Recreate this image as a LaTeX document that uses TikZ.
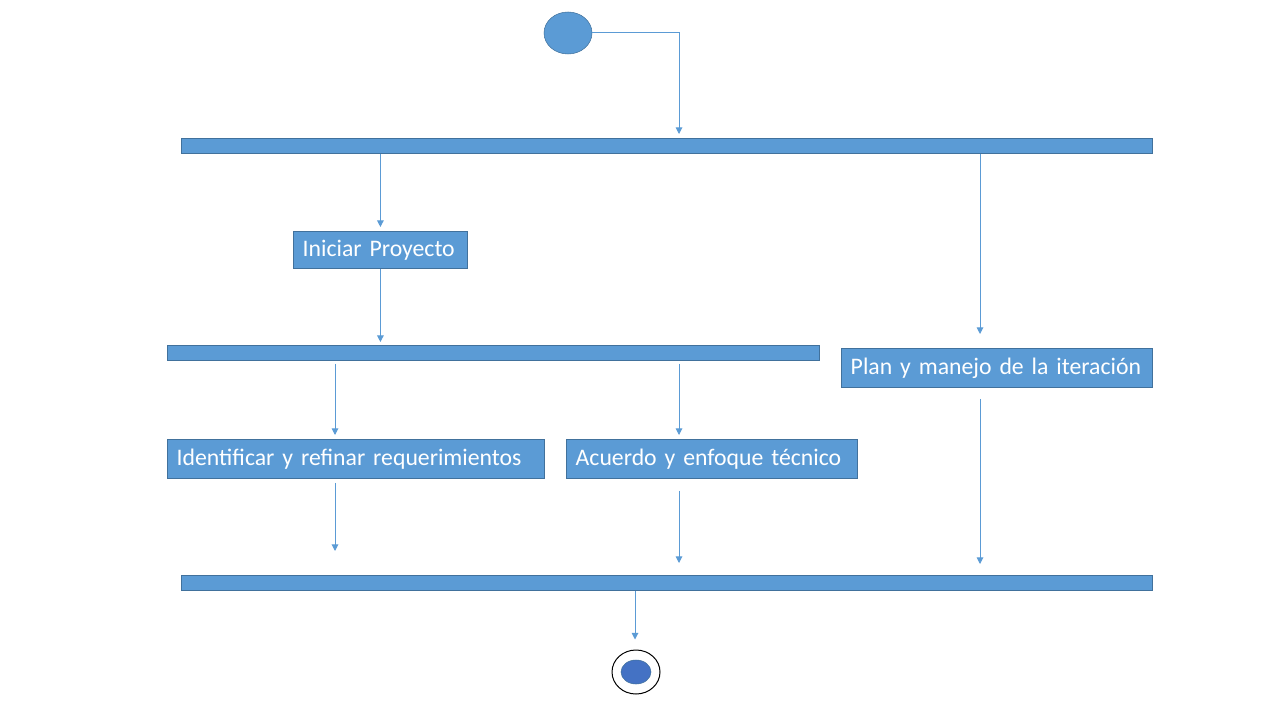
\documentclass[tikz,border=0pt]{standalone}
\usepackage{fontspec}
\setmainfont{Carlito}[WordSpace=0.8]
\usetikzlibrary{shapes.geometric, arrows.meta, positioning}
\definecolor{fillblue}{HTML}{5B9BD5}
\definecolor{edgeblue}{HTML}{41719C}
\definecolor{endblue}{HTML}{4472C4}

\begin{document}
\begin{tikzpicture}[
    x=0.75pt, y=-0.75pt,
    activity/.style={rectangle, draw=edgeblue, fill=fillblue, text=white, anchor=north west, align=left, inner xsep=7pt, inner ysep=0pt, line width=0.6pt},
    bar/.style={rectangle, draw=edgeblue, fill=fillblue, anchor=north west, inner sep=0pt, minimum height=11.25pt, line width=0.6pt},
    arrow/.style={draw=fillblue, line width=0.75pt, -{Triangle[width=5pt,length=5pt]}},
    every node/.append style={font=\fontsize{17.8}{21}\selectfont}
]
    \useasboundingbox (0,0) rectangle (1280,720);

    % Nodes
    \node[ellipse, draw=edgeblue, fill=fillblue, minimum width=36pt, minimum height=31.5pt, inner sep=0pt] (start) at (568,33) {};
    \node[bar, minimum width=728.25pt] (bar1) at (181,138) {};
    \node[activity, text width=116.5pt, minimum height=27.75pt] (init) at (293,231) {Iniciar Proyecto};
    \node[activity, text width=219.25pt, minimum height=29.25pt] (plan) at (841,348) {\mbox{Plan y manejo de la iteración}};
    \node[bar, minimum width=489pt] (bar2) at (167,345) {};
    \node[activity, text width=268.75pt, minimum height=29.25pt] (ident) at (167,439) {\mbox{Identificar y refinar requerimientos}};
    \node[activity, text width=204.25pt, minimum height=29.25pt] (acuerdo) at (566,439) {\mbox{Acuerdo y enfoque técnico}};
    \node[bar, minimum width=728.25pt] (bar3) at (181,575) {};
    \node[ellipse, draw=black, line width=0.75pt, minimum width=36pt, minimum height=33pt, inner sep=0pt] (final) at (636,672) {};
    \node[ellipse, draw=edgeblue, fill=endblue, minimum width=22.5pt, minimum height=18pt, inner sep=0pt] (finaldot) at (final.center) {};

    % Columns of the flows
    \coordinate (colLeft) at (335,0);
    \coordinate (colMid) at (679,0);
    \coordinate (colRight) at (980,0);
    \coordinate (colEnd) at (635,0);

    % Transitions
    \draw[arrow, shorten >=3pt] (start.east) -| (bar1.north -| colMid);
    \draw[arrow, shorten >=3pt] (init.north |- bar1.south) -- (init.north);
    \draw[arrow, shorten >=10.5pt] (bar1.south -| colRight) -- (plan.north -| colRight);
    \draw[arrow, shorten >=2.25pt] (init.south) -- (init.south |- bar2.north);
    \draw[arrow, shorten <=2.25pt, shorten >=3pt] (bar2.south -| colLeft) -- (ident.north -| colLeft);
    \draw[arrow, shorten <=2.25pt, shorten >=3pt] (bar2.south -| colMid) -- (acuerdo.north -| colMid);
    \draw[arrow, shorten <=3pt, shorten >=18pt] (ident.south -| colLeft) -- (bar3.north -| colLeft);
    \draw[arrow, shorten <=9pt, shorten >=9pt] (acuerdo.south -| colMid) -- (bar3.north -| colMid);
    \draw[arrow, shorten <=8.25pt, shorten >=8.25pt] (plan.south -| colRight) -- (bar3.north -| colRight);
    \draw[arrow, shorten >=7.5pt] (bar3.south -| colEnd) -- (final.north -| colEnd);
\end{tikzpicture}
\end{document}
